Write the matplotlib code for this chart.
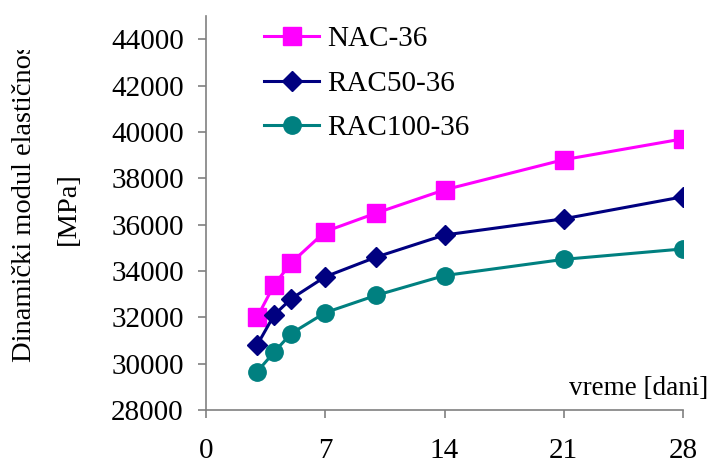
import matplotlib
matplotlib.use("Agg")
import matplotlib.pyplot as plt
from matplotlib.transforms import Bbox

# data
days = [3, 4, 5, 7, 10, 14, 21, 28]
nac36 = [32000, 33400, 34350, 35700, 36500, 37500, 38800, 39700]
rac50_36 = [30800, 32100, 32800, 33750, 34600, 35550, 36250, 37200]
rac100_36 = [29650, 30500, 31300, 32200, 32950, 33800, 34500, 34950]
x_ticks = [0, 7, 14, 21, 28]
y_ticks = list(range(28000, 44001, 2000))

plt.rcParams['font.family'] = ['Liberation Serif', 'DejaVu Serif']
plt.rcParams['font.size'] = 21

W, H = 709, 465
fig = plt.figure(figsize=(W / 100, H / 100), dpi=100)
ax = fig.add_axes([206 / W, 1 - 410 / H, (683 - 206) / W, (410 - 16) / H])

ax.plot(days, nac36, color='#FF00FF', lw=2.2, marker='s', ms=13, label='NAC-36')
ax.plot(days, rac50_36, color='#000080', lw=2.2, marker='D', ms=10.5, label='RAC50-36')
ax.plot(days, rac100_36, color='#008080', lw=2.2, marker='o', ms=12.5, label='RAC100-36')

ax.set_xlim(0, 28)
ax.set_ylim(28000, 45000)
ax.set_xticks(x_ticks)
ax.set_yticks(y_ticks)
for s in ['top', 'right']:
    ax.spines[s].set_visible(False)
for s in ['left', 'bottom']:
    ax.spines[s].set_color('#808080')
    ax.spines[s].set_linewidth(1.2)
ax.tick_params(axis='both', direction='out', length=6, width=1.2, color='#808080')
ax.tick_params(axis='x', pad=14)
ax.tick_params(axis='y', pad=10)

leg = ax.legend(loc='upper left', bbox_to_anchor=(264 / W, 1 - 26 / H),
                bbox_transform=fig.transFigure, frameon=False,
                handlelength=1.9, handletextpad=0.27, labelspacing=0.62,
                borderaxespad=0, borderpad=0)

# y label, clipped at the top like the original
clip = Bbox.from_extents(0, 0, 120, H - 50)
t1 = fig.text(25 / W, 1 - 362 / H, 'Dinamički modul elastičnosti', rotation=90,
              ha='center', va='bottom', fontsize=20.5)
t1.set_clip_box(clip)
t1.set_clip_on(True)
fig.text(68 / W, 1 - 209 / H, '[MPa]', rotation=90, ha='center', va='center',
         fontsize=20.5)

fig.text(708 / W, 1 - 395 / H, 'vreme [dani]', ha='right', va='baseline',
         fontsize=19.5)

fig.savefig('out.png', dpi=100)
